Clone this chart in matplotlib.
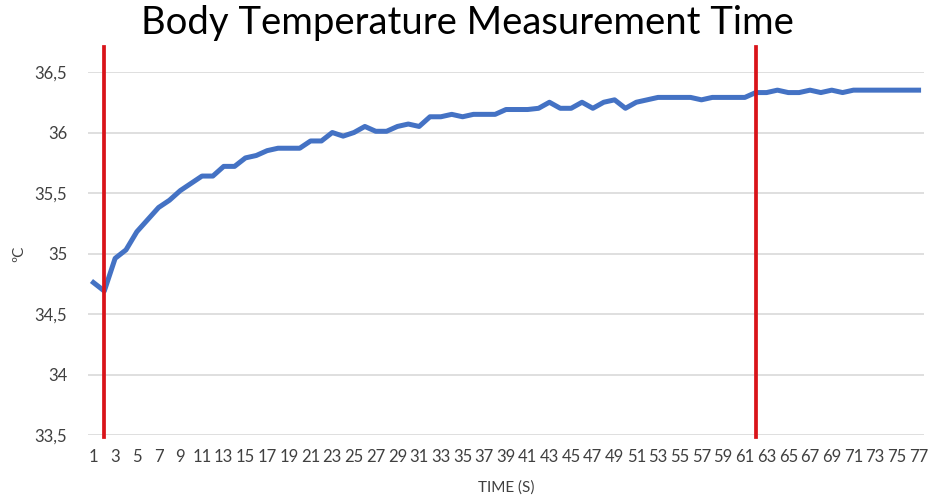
import numpy as np
import matplotlib
matplotlib.use('Agg')
from matplotlib import pyplot as plt

plt.rcParams['font.family'] = ['Lato', 'DejaVu Sans']

# data
time_s = list(range(1, 78))
temperature = [
    34.76, 34.69, 34.96, 35.03, 35.18, 35.28, 35.38, 35.44, 35.52, 35.58,
    35.64, 35.64, 35.72, 35.72, 35.79, 35.81, 35.85, 35.87, 35.87, 35.87,
    35.93, 35.93, 36.00, 35.97, 36.00, 36.05, 36.01, 36.01, 36.05, 36.07,
    36.05, 36.13, 36.13, 36.15, 36.13, 36.15, 36.15, 36.15, 36.19, 36.19,
    36.19, 36.20, 36.25, 36.20, 36.20, 36.25, 36.20, 36.25, 36.27, 36.20,
    36.25, 36.27, 36.29, 36.29, 36.29, 36.29, 36.27, 36.29, 36.29, 36.29,
    36.29, 36.33, 36.33, 36.35, 36.33, 36.33, 36.35, 36.33, 36.35, 36.33,
    36.35, 36.35, 36.35, 36.35, 36.35, 36.35, 36.35,
]
marker_times = [2, 62]
y_ticks = [33.5, 34, 34.5, 35, 35.5, 36, 36.5]
y_tick_labels = ['33,5', '34', '34,5', '35', '35,5', '36', '36,5']

fig = plt.figure(figsize=(9.31, 4.97), dpi=100)
ax = fig.add_axes([88 / 931, 1 - 435 / 497, 836 / 931, 363 / 497])

ax.plot(time_s, temperature, color='#4472C4', linewidth=3.6, solid_joinstyle='round', zorder=3)

for t in marker_times:
    ax.axvline(t, ymin=-0.005, ymax=1.07, color='#d9141a', linewidth=2.7, clip_on=False, zorder=4)

ax.set_xlim(0.5, 77.5)
ax.set_ylim(33.5, 36.5)
ax.set_yticks(y_ticks)
ax.set_yticklabels(y_tick_labels)
ax.set_xticks(time_s[::2])
ax.set_xticklabels([str(t) for t in time_s[::2]])

ax.grid(True, axis='y', color='#d9d9d9', linewidth=1.2)
ax.set_axisbelow(True)
for s in ax.spines.values():
    s.set_visible(False)
ax.tick_params(axis='both', length=0, labelsize=12, colors='#404040')
ax.tick_params(axis='y', pad=15)
ax.tick_params(axis='x', pad=10)

ax.set_xlabel('TIME (S)', fontsize=11, color='#404040', labelpad=11)
ax.set_ylabel('ºC', fontsize=11, color='#404040', labelpad=6)

fig.text(0.502, 0.953, 'Body Temperature Measurement Time', ha='center', va='center',
         fontsize=27.5, color='black')

plt.savefig('out.png', dpi=100)
